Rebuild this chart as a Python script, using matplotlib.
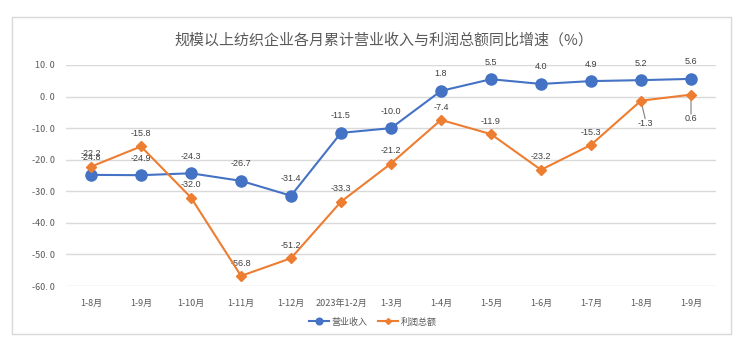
import matplotlib
matplotlib.use("Agg")
import matplotlib.pyplot as plt
from matplotlib.patches import Rectangle

plt.rcParams['font.family'] = ['Noto Sans CJK SC', 'DejaVu Sans']

categories = ["1-8月", "1-9月", "1-10月", "1-11月", "1-12月", "2023年1-2月", "1-3月",
              "1-4月", "1-5月", "1-6月", "1-7月", "1-8月", "1-9月"]
revenue = [-24.8, -24.9, -24.3, -26.7, -31.4, -11.5, -10.0, 1.8, 5.5, 4.0, 4.9, 5.2, 5.6]
profit = [-22.2, -15.8, -32.0, -56.8, -51.2, -33.3, -21.2, -7.4, -11.9, -23.2, -15.3, -1.3, 0.6]
yticks = [10, 0, -10, -20, -30, -40, -50, -60]
title = "规模以上纺织企业各月累计营业收入与利润总额同比增速（%）"
series_names = ["营业收入", "利润总额"]

BLUE = "#4472C4"
ORANGE = "#ED7D31"
GRAY = "#595959"

W, H = 745, 351
fig = plt.figure(figsize=(W / 100, H / 100), dpi=100)
fig.patch.set_facecolor("white")

# outer frame
fig.add_artist(Rectangle((12 / W, 1 - 334 / H), (731 - 12) / W, (334 - 17) / H,
                         transform=fig.transFigure, fill=False, edgecolor="#d9d9d9", lw=1))

ax = fig.add_axes([66 / W, 1 - 286 / H, (716 - 66) / W, (286 - 65) / H])
x = list(range(len(categories)))

ax.plot(x, revenue, color=BLUE, lw=1.5, marker="o", markersize=8, zorder=3, label=series_names[0])
ax.plot(x, profit, color=ORANGE, lw=1.5, marker="D", markersize=5, zorder=4, label=series_names[1])

ax.set_xlim(-0.5, len(categories) - 0.5)
ax.set_ylim(-60, 10)
ax.set_yticks(yticks)
ax.set_yticklabels([f"{v:.1f}".replace(".", ". ") for v in yticks])
ax.set_xticks(x)
ax.set_xticklabels(categories)
ax.tick_params(axis="both", length=0, labelsize=6.5, labelcolor=GRAY)
ax.tick_params(axis="x", pad=9)
ax.tick_params(axis="y", pad=8)
ax.grid(axis="y", color="#d9d9d9", lw=1)
ax.set_axisbelow(True)
for s in ax.spines.values():
    s.set_visible(False)

lab_kw = dict(textcoords="offset points", ha="center", fontsize=6.5, color="#404040",
              family=["Liberation Sans", "DejaVu Sans"])
for i, v in enumerate(revenue):
    ax.annotate(f"{v:.1f}", (i, v), xytext=(0, 9), va="bottom", **lab_kw)
for i, v in enumerate(profit):
    if i == 11:
        ax.annotate(f"{v:.1f}", (i, v), xytext=(3, -13), va="top", **lab_kw)
        ax.annotate("", (i, v), xytext=(3, -13), textcoords="offset points",
                    arrowprops=dict(arrowstyle="-", color="#7f7f7f", lw=0.8, shrinkA=0, shrinkB=3))
    elif i == 12:
        ax.annotate(f"{v:.1f}", (i, v), xytext=(0, -14), va="top", **lab_kw)
        ax.annotate("", (i, v), xytext=(0, -14), textcoords="offset points",
                    arrowprops=dict(arrowstyle="-", color="#7f7f7f", lw=0.8, shrinkA=0, shrinkB=0))
    else:
        ax.annotate(f"{v:.1f}", (i, v), xytext=(0, 6), va="bottom", **lab_kw)

fig.text(384 / W, 1 - 40 / H, title, ha="center", va="center", fontsize=10.8, color=GRAY)

leg = fig.legend(loc="center", bbox_to_anchor=(373 / W, 1 - 322 / H), ncol=2, frameon=False,
                 fontsize=6.5, handlelength=2.2, columnspacing=1.2, handletextpad=0.3,
                 markerscale=0.6)
for t in leg.get_texts():
    t.set_color(GRAY)

fig.savefig("out.png", dpi=100)
